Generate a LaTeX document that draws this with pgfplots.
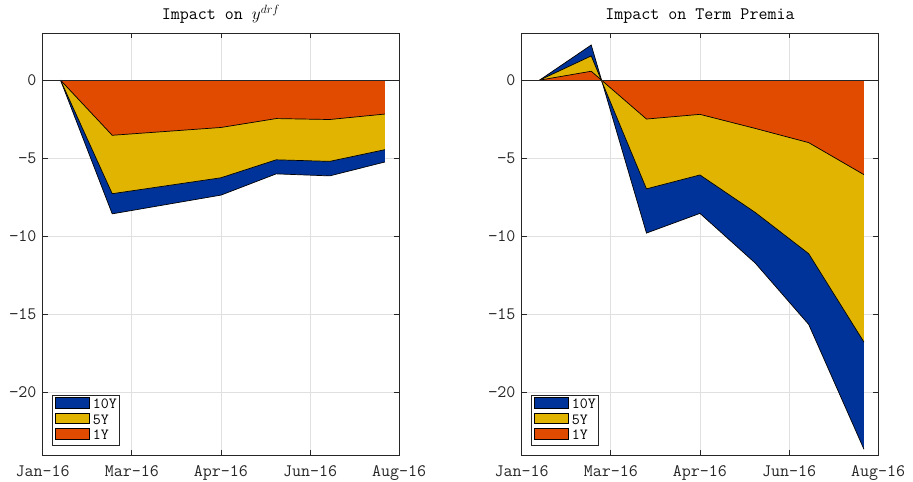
\documentclass[border=0pt]{standalone}
\usepackage{fontspec}
\usepackage{pgfplots}
\usepackage{pgfplotstable}
\pgfplotsset{compat=1.18}

\definecolor{c10}{RGB}{0,51,153}
\definecolor{c5}{RGB}{224,180,0}
\definecolor{c1}{RGB}{224,75,0}
\definecolor{axgray}{RGB}{38,38,38}
\definecolor{gridgray}{RGB}{224,224,224}

\newcommand\lfont{\ttfamily\fontsize{17.5bp}{20bp}\selectfont}
\newcommand\legfont{\ttfamily\fontsize{15.5bp}{16bp}\selectfont}

% x in days after 21 Jan 2016; columns: 10Y, 5Y, 1Y
\pgfplotstableread{
x    ten     five    one
10    0.00    0.00    0.00
39   -8.56   -7.27   -3.53
100  -7.36   -6.25   -3.03
131  -6.00   -5.10   -2.46
161  -6.13   -5.20   -2.52
192  -5.24   -4.45   -2.17
}\ydrf

\pgfplotstableread{
x    ten     five    one
10    0.00    0.00    0.00
39    2.25    1.55    0.57
70   -9.79   -6.96   -2.49
100  -8.53   -6.07   -2.19
131 -11.71   -8.47   -3.09
161 -15.64  -11.11   -4.00
192 -23.63  -16.77   -6.05
}\tp

\pgfplotsset{
  panel/.style={
    scale only axis, width=356.5bp, height=421.7bp,
    xmin=0, xmax=200, ymin=-24, ymax=3,
    xtick={0,50,100,150,200},
    xticklabels={Jan-16,Mar-16,Apr-16,Jun-16,Aug-16},
    ytick={-20,-15,-10,-5,0},
    yticklabels={−20,−15,−10,−5,0},
    tick align=inside, major tick length=5bp,
    axis line style={axgray, line width=0.9bp},
    every tick/.style={axgray, line width=0.9bp},
    grid=major, major grid style={gridgray, line width=0.9bp},
    tick label style={font=\lfont, text=axgray},
    yticklabel style={anchor=east, inner sep=0pt, xshift=-6bp},
    xticklabel style={anchor=north, inner sep=0pt, yshift=-10bp},
    title style={font=\lfont, anchor=base, at={(0.5,1)}, yshift=8bp, inner sep=0pt},
    legend style={at={(0,0)}, anchor=south west, xshift=9bp, yshift=9bp,
      font=\legfont, draw=axgray, line width=0.9bp,
      inner xsep=3bp, inner ysep=2bp, row sep=0pt, column sep=3bp,
      nodes={inner sep=0pt, text height=9.4bp, text depth=3.6bp}},
    legend cell align=left,
    legend image code/.code={\draw[#1, draw=black, line width=0.8bp] (0bp,-2bp) rectangle (34bp,8.6bp);},
  },
  edge/.style={black, line width=0.7bp, forget plot},
}

\begin{document}
\begin{tikzpicture}
\useasboundingbox (0,0) rectangle (913bp,482bp);

\begin{axis}[panel, at={(42.7bp,27bp)}, anchor=south west,
  title={Impact on $y^{drf}$}]
  \addplot[fill=c10, draw=none] table[x=x, y=ten] {\ydrf} \closedcycle;
  \addlegendentry{10Y}
  \addplot[edge] table[x=x, y=ten] {\ydrf};
  \addplot[fill=c5, draw=none] table[x=x, y=five] {\ydrf} \closedcycle;
  \addlegendentry{5Y}
  \addplot[edge] table[x=x, y=five] {\ydrf};
  \addplot[fill=c1, draw=none] table[x=x, y=one] {\ydrf} \closedcycle;
  \addlegendentry{1Y}
  \addplot[edge] table[x=x, y=one] {\ydrf};
  \addplot[axgray, line width=0.9bp, forget plot] coordinates {(0,0) (200,0)};
\end{axis}

\begin{axis}[panel, at={(521.7bp,27bp)}, anchor=south west,
  title={Impact on Term Premia}]
  \addplot[fill=c10, draw=none] table[x=x, y=ten] {\tp} \closedcycle;
  \addlegendentry{10Y}
  \addplot[edge] table[x=x, y=ten] {\tp};
  \addplot[fill=c5, draw=none] table[x=x, y=five] {\tp} \closedcycle;
  \addlegendentry{5Y}
  \addplot[edge] table[x=x, y=five] {\tp};
  \addplot[fill=c1, draw=none] table[x=x, y=one] {\tp} \closedcycle;
  \addlegendentry{1Y}
  \addplot[edge] table[x=x, y=one] {\tp};
  \addplot[axgray, line width=0.9bp, forget plot] coordinates {(0,0) (200,0)};
\end{axis}
\end{tikzpicture}
\end{document}
